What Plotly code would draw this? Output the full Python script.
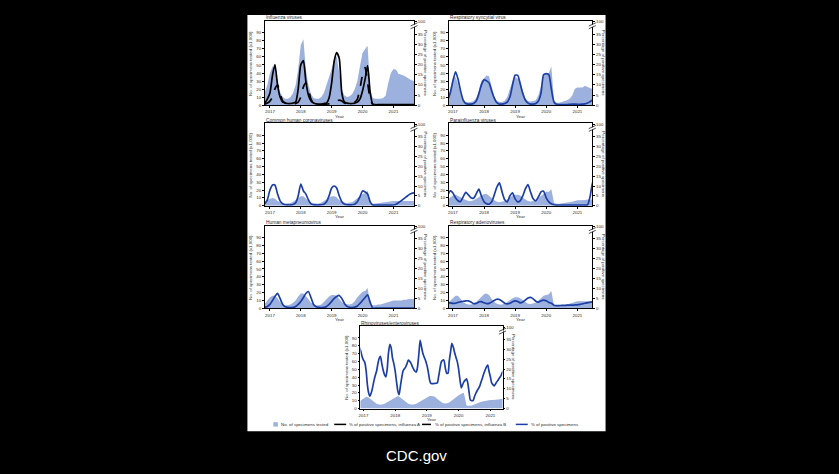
import pandas as pd
import plotly.graph_objects as go

W, H = 839, 474
FONT = "Liberation Sans Narrow, Arial Narrow, Liberation Sans, Arial, sans-serif"

# ---------------- data (monthly, 1st of month, Nov 2016 - Sep 2021) ----------------
months = pd.date_range("2016-11-01", "2021-09-01", freq="MS")

# Influenza
flu_spec = [16, 25,
            40, 48, 44, 28, 16, 10, 8, 8, 10, 15, 25, 45,
            75, 82, 45, 25, 14, 9, 8, 8, 10, 15, 25, 35,
            45, 58, 61, 40, 20, 12, 10, 11, 14, 20, 30, 48,
            65, 70, 74, 20, 9, 8, 8, 8, 9, 12, 28, 40,
            45, 44, 39, 38, 37, 35, 33, 31, 30]
flu_a_pct = [1, 3,
             6, 15, 20, 10, 4, 1.5, 1, 0.8, 0.8, 1, 1.5, 8,
             20, 22, 12, 5, 2, 1, 0.6, 0.5, 0.5, 0.8, 1, 3.5,
             11, 22, 26, 23, 6, 1.5, 1, 0.8, 0.8, 1, 1.5, 3,
             7, 13, 19.5, 6, 0.5, 0.2, 0.2, 0.2, 0.2, 0.2, 0.2, 0.2,
             0.2, 0.2, 0.2, 0.2, 0.2, 0.2, 0.2, 0.2, 0.2]
flu_b_pct = [0.5, 1,
             2, 4, 8, 10, 6, 2, 1, 0.5, 0.5, 0.5, 0.8, 1.5,
             4, 9, 11, 8, 3, 1, 0.5, 0.3, 0.3, 0.3, 0.5, 0.6,
             0.8, 1.2, 2, 2.5, 2, 1, 0.5, 0.5, 0.8, 1.5, 3, 8,
             15, 18.5, 11, 3, 0.3, 0.1, 0.1, 0.1, 0.1, 0.1, 0.1, 0.1,
             0.1, 0.1, 0.1, 0.1, 0.1, 0.1, 0.1, 0.1, 0.1]

# RSV
rsv_spec = [8, 22,
            34, 35, 27, 15, 7, 4, 3.5, 4, 5, 9, 18, 30,
            33, 37, 36, 22, 10, 5, 4, 4, 5.5, 10, 20, 30,
            35, 33, 29, 17, 8, 5, 4.5, 5, 6, 12, 25, 36,
            40, 40, 48, 6, 3, 3, 4, 5, 6, 8, 12, 20,
            22, 22, 22, 24, 22, 21, 20, 20, 20]
rsv_pct = [2.5, 6,
           12, 16.5, 13, 7, 2.5, 0.8, 0.5, 0.5, 0.8, 2, 5.5, 10,
           12.5, 12, 11, 7, 3.5, 1.2, 0.5, 0.5, 0.8, 1.5, 4, 9.8,
           14.8, 14.7, 10.7, 5.7, 2.5, 1, 0.5, 0.5, 0.8, 2, 6, 15,
           15.6, 15, 8, 1.5, 0.4, 0.3, 0.3, 0.3, 0.3, 0.4, 0.5, 0.5,
           0.4, 0.4, 0.5, 0.6, 1, 1.8, 2.6, 3, 3]

# Common human coronaviruses
cov_spec = [5, 7,
            9, 10, 9, 6, 4, 3, 3, 3, 3.5, 5, 7, 10,
            12, 12, 9, 6, 4, 3, 3, 3, 4, 6, 8, 10,
            12, 12, 11, 7, 5, 4, 3.5, 4, 4.5, 7, 10, 13,
            15, 16, 19, 4, 2.5, 3, 3.5, 3.5, 4, 4.5, 5, 6,
            6, 6, 6, 6, 6, 6, 6, 6, 6]
cov_pct = [1, 3,
           8, 10.5, 10.5, 6, 2.5, 1, 0.5, 0.4, 0.4, 0.6, 1.5, 5,
           11, 7.5, 6, 3, 1, 0.5, 0.4, 0.4, 0.5, 0.8, 2, 5,
           9, 10, 9, 5, 2, 0.8, 0.5, 0.4, 0.5, 0.8, 2, 4.5,
           7.5, 7, 6, 2, 0.4, 0.3, 0.3, 0.3, 0.3, 0.3, 0.3, 0.3,
           0.4, 0.8, 1.5, 2.5, 3.5, 4.5, 5.5, 6.2, 6.5]

# Parainfluenza viruses
piv_spec = [8, 11,
            13, 14, 13, 11, 9, 7, 6, 6, 7, 9, 11, 13,
            15, 15, 13, 10, 7, 5, 4.5, 5, 6, 8, 11, 13,
            14, 14, 13, 10, 8, 6, 5.5, 6, 7, 10, 13, 16,
            18, 18, 21, 4, 2.5, 2.5, 3, 3, 3.5, 4, 5, 6,
            7, 7, 7, 7.5, 8, 8, 8, 8, 8]
piv_pct = [5.5, 7.5,
           6.5, 4, 2.5, 2.2, 4.5, 6.8, 5.5, 4, 3.8, 6, 8.4, 5,
           2, 1, 0.8, 2, 5.5, 9.5, 11.6, 7, 3, 2, 5, 6.6,
           3.5, 2, 2.5, 5, 8.5, 10.7, 7, 3.5, 2.5, 4.5, 7, 7.4,
           4, 2, 1, 0.5, 0.3, 0.3, 0.3, 0.3, 0.3, 0.3, 0.3, 0.3,
           0.3, 0.3, 0.3, 0.3, 0.5, 5, 12, 13, 13]

# Human metapneumovirus
hmpv_spec = [6, 10,
             14, 16, 16, 13, 8, 5, 4, 4, 5, 7, 10, 15,
             19, 19, 16, 12, 7, 5, 4, 4, 5, 8, 12, 15,
             17, 17, 16, 12, 8, 5.5, 5, 5, 6, 9, 14, 18,
             21, 22, 26, 5, 4, 4, 5, 5, 6, 7, 8, 9,
             10, 10, 10, 10, 11, 11, 12, 12, 12]
hmpv_pct = [0.5, 1,
            2, 4, 6, 7.6, 5, 2, 0.8, 0.5, 0.4, 0.5, 1, 2,
            3.5, 5.5, 7.5, 8.5, 5.5, 2, 0.8, 0.5, 0.4, 0.5, 1, 2,
            3.5, 5, 6, 6.5, 5, 2.5, 1, 0.5, 0.4, 0.6, 1.2, 2.5,
            4, 5.5, 6.8, 3, 0.1, 0.1, 0.1, 0.1, 0.1, 0.1, 0.1, 0.1,
            0.1, 0.1, 0.1, 0.1, 0.1, 0.1, 0.1, 0.1, 0.1]

# Respiratory adenoviruses
adv_spec = [7, 10,
            13, 16, 16, 12, 8, 6, 5, 5, 6, 8, 11, 15,
            18, 19, 17, 12, 8, 6, 5, 5, 6, 8, 11, 13,
            14, 14, 13, 11, 8, 6, 5.5, 6, 7, 10, 13, 16,
            17, 18, 22, 4, 3, 3, 3.5, 4, 5, 6, 7, 8,
            9, 9, 9, 9, 9, 9, 9, 9, 9]
adv_pct = [2.8, 2.8,
           2.5, 2.6, 3, 3.3, 3.6, 3.8, 3.8, 3.2, 2.4, 2.5, 3.2, 3.4,
           2.8, 2.4, 2.5, 3.2, 4, 4.6, 4.5, 3.6, 2.6, 2.3, 2.6, 3.3,
           3.8, 3.5, 2.8, 3.2, 4.2, 5.2, 5.5, 4.8, 3.6, 3.2, 3.8, 4.2,
           3.8, 3, 2.6, 1.6, 1.4, 1.4, 1.5, 1.5, 1.6, 1.6, 1.6, 1.7,
           1.8, 2, 2.3, 2.6, 2.9, 3.1, 3.3, 3.4, 3.4]

# Rhinoviruses/enteroviruses
rv_spec = [8, 10,
           13, 15, 14, 11, 8, 6, 5, 5, 6, 8, 10, 12,
           15, 16, 14, 11, 8, 6, 5, 5, 6, 8, 10, 12,
           14, 16, 16, 15, 12, 9, 7, 6.5, 7, 9, 12, 15,
           17, 19, 20, 4, 3.5, 4, 5.5, 7, 8, 9, 10, 10.5,
           11, 11, 11, 11.5, 12, 12, 12, 12, 12]
# semi-monthly (1st and 15th), from 15 Nov 2016
rv_pct = [31, 29, 26.5,
          24.5, 23.5, 19, 12, 8, 6.3, 8, 10.5, 14, 16.5, 19, 22.5,
          25.5, 26.5, 22.5, 19.5, 17, 16, 20, 28, 32.5, 31, 25.5, 23,
          19, 14, 8.7, 7, 11, 15, 19, 20, 21, 22.5, 24.5, 24,
          23, 21.5, 20, 19, 18.5, 21, 28, 34.5, 31, 28, 26, 24.5,
          22, 19, 14.5, 12.8, 12.6, 12.6, 12.7, 12.8, 13, 16, 20.5, 23.5,
          24.5, 24.5, 20.5, 18, 18, 24, 29, 33, 31, 28.5, 26, 24,
          20, 15, 10.5, 12, 13.5, 14.3, 15, 13, 8, 4.3, 4, 4,
          6, 7.5, 9, 10, 11.5, 13.5, 15.5, 17.5, 19.5, 21, 22, 19,
          16, 13, 12, 11.5, 12.5, 13.5, 14.5, 15.5, 16.5, 18, 19, 19.5]
rv_dates = pd.date_range("2016-11-15", periods=len(rv_pct), freq="SMS")

year_ticks = ["2017-01-01", "2018-01-01", "2019-01-01", "2020-01-01", "2021-01-01"]
year_labels = ["2017", "2018", "2019", "2020", "2021"]
left_ticks = [0, 10, 20, 30, 40, 50, 60, 70, 80, 90]
right_ticks = [0, 5, 10, 15, 20, 25, 30, 35]
right_top_label = "100"

titles = ["Influenza viruses", "Respiratory syncytial virus", "Common human coronaviruses",
          "Parainfluenza viruses", "Human metapneumovirus", "Respiratory adenoviruses",
          "Rhinoviruses/enteroviruses"]

# ---------------- styling / layout ----------------
AREA = "#9db1de"
BLUE = "#1c3fa5"
TXT = "#2a2a2a"
FS = 4.4

COL1 = (263.5, 413.0, ["2016-11-02", "2021-09-01"])
COL2 = (448.0, 591.7, ["2016-11-15", "2021-06-25"])
BOT = (359.3, 501.7, ["2016-11-27", "2021-05-20"])
ROWS = [(20, 105), (123.5, 206.5), (226.5, 310), (328, 411)]

panels = [
    dict(col=COL1, row=ROWS[0], spec=flu_spec, lines=[(months, flu_a_pct, "black", "solid"),
                                                      (months, flu_b_pct, "black", "dash")]),
    dict(col=COL2, row=ROWS[0], spec=rsv_spec, lines=[(months, rsv_pct, BLUE, "solid")]),
    dict(col=COL1, row=ROWS[1], spec=cov_spec, lines=[(months, cov_pct, BLUE, "solid")]),
    dict(col=COL2, row=ROWS[1], spec=piv_spec, lines=[(months, piv_pct, BLUE, "solid")]),
    dict(col=COL1, row=ROWS[2], spec=hmpv_spec, lines=[(months, hmpv_pct, BLUE, "solid")]),
    dict(col=COL2, row=ROWS[2], spec=adv_spec, lines=[(months, adv_pct, BLUE, "solid")]),
    dict(col=BOT, row=ROWS[3], spec=rv_spec, lines=[(rv_dates, rv_pct, BLUE, "solid")]),
]

LEFT_MAX = 105
RIGHT_MAX = 41.7


def px(x):
    return x / W


def py(y):
    return 1 - y / H


def ann(text, x, y, size=FS, xanchor="center", yanchor="middle", angle=0, color=TXT, family=FONT):
    return dict(text=text, x=px(x), y=py(y), xref="paper", yref="paper", showarrow=False,
                xanchor=xanchor, yanchor=yanchor, textangle=angle, borderpad=0,
                font=dict(size=size, color=color, family=family))


fig = go.Figure()
layout = dict(width=W, height=H, margin=dict(l=0, r=0, t=0, b=0),
              paper_bgcolor="black", plot_bgcolor="white", showlegend=False,
              font=dict(family=FONT, size=FS, color=TXT))
annotations = []
shapes = [dict(type="rect", xref="paper", yref="paper", x0=px(246), x1=px(605), y0=py(434), y1=py(14),
               fillcolor="white", line=dict(width=0), layer="below")]

tickfont = dict(size=FS, color=TXT, family=FONT)
for i, p in enumerate(panels, 1):
    x0, x1, xr = p["col"]
    y0, y1 = p["row"]
    xid = "x" if i == 1 else f"x{i}"
    yl = 2 * i - 1
    yr = 2 * i
    ylid = "y" if yl == 1 else f"y{yl}"
    yrid = f"y{yr}"
    layout["xaxis" if i == 1 else f"xaxis{i}"] = dict(
        domain=[px(x0), px(x1)], range=xr, type="date", anchor=ylid,
        tickvals=year_ticks, ticktext=year_labels, tickfont=tickfont,
        showline=True, linecolor="black", linewidth=0.8, mirror=True,
        ticks="outside", ticklen=2, tickwidth=0.6, tickcolor="black",
        showgrid=False, zeroline=False)
    layout["yaxis" if yl == 1 else f"yaxis{yl}"] = dict(
        domain=[py(y1), py(y0)], range=[0, LEFT_MAX], anchor=xid,
        tickvals=left_ticks, tickfont=tickfont,
        showline=True, linecolor="black", linewidth=0.8,
        ticks="outside", ticklen=2, tickwidth=0.6, tickcolor="black",
        showgrid=False, zeroline=False)
    layout[f"yaxis{yr}"] = dict(
        overlaying=ylid, side="right", range=[0, RIGHT_MAX], anchor=xid,
        tickvals=right_ticks + [41.2], ticktext=[str(v) for v in right_ticks] + [right_top_label],
        tickfont=tickfont, showline=True, linecolor="black", linewidth=0.8,
        ticks="outside", ticklen=2, tickwidth=0.6, tickcolor="black",
        showgrid=False, zeroline=False)

    fig.add_trace(go.Scatter(x=months, y=p["spec"], mode="lines", fill="tozeroy",
                             fillcolor=AREA, line=dict(width=0, color=AREA),
                             xaxis=xid, yaxis=ylid, hoverinfo="skip"))
    for xs, ys, c, d in p["lines"]:
        fig.add_trace(go.Scatter(x=xs, y=ys, mode="lines",
                                 line=dict(color=c, width=1.7, dash=d, shape="spline", smoothing=0.6),
                                 xaxis=xid, yaxis=yrid, hoverinfo="skip"))

    # texts
    annotations.append(ann(titles[i - 1], x0, y0 + 0.5, size=4.8, xanchor="left", yanchor="bottom"))
    annotations.append(ann("No. of specimens tested (x1,000)", x0 - 14, (y0 + y1) / 2, angle=-90))
    annotations.append(ann("Percentage of positive specimens", x1 + 11, (y0 + y1) / 2, angle=90))
    annotations.append(ann("Year", (x0 + x1) / 2, y1 + 11))

    # axis break marks on the right axis
    yt = y0 + 5
    shapes.append(dict(type="rect", xref="paper", yref="paper", x0=px(x1 - 1), x1=px(x1 + 1),
                       y0=py(yt + 1.2), y1=py(yt - 1.2), fillcolor="white", line=dict(width=0)))
    for dy in (-1.4, 1.4):
        shapes.append(dict(type="line", xref="paper", yref="paper",
                           x0=px(x1 - 3.5), y0=py(yt + dy + 1.6), x1=px(x1 + 3.5), y1=py(yt + dy - 1.6),
                           line=dict(color="black", width=0.7)))

# manual legend
LY = 427
shapes.append(dict(type="rect", xref="paper", yref="paper", x0=px(272), x1=px(276.5),
                   y0=py(LY + 2.2), y1=py(LY - 2.2), fillcolor=AREA, line=dict(width=0)))
annotations.append(ann("No. of specimens tested", 278.5, LY, xanchor="left"))
shapes.append(dict(type="line", xref="paper", yref="paper", x0=px(333), x1=px(345), y0=py(LY), y1=py(LY),
                   line=dict(color="black", width=1.5)))
annotations.append(ann("% of positive specimens, influenza A", 347, LY, xanchor="left"))
shapes.append(dict(type="line", xref="paper", yref="paper", x0=px(421), x1=px(431), y0=py(LY), y1=py(LY),
                   line=dict(color="black", width=1.5, dash="dash")))
annotations.append(ann("% of positive specimens, influenza B", 433, LY, xanchor="left"))
shapes.append(dict(type="line", xref="paper", yref="paper", x0=px(515), x1=px(527), y0=py(LY), y1=py(LY),
                   line=dict(color=BLUE, width=1.5)))
annotations.append(ann("% of positive specimens", 529.5, LY, xanchor="left"))

annotations.append(ann("CDC.gov", 415, 458, size=15, color="white",
                       family="Liberation Sans, Arial, sans-serif"))

layout["annotations"] = annotations
layout["shapes"] = shapes
fig.update_layout(**layout)
fig.write_html("out.html", config={"displayModeBar": False},
               post_script="document.body.style.margin='0';document.body.style.background='black';")
